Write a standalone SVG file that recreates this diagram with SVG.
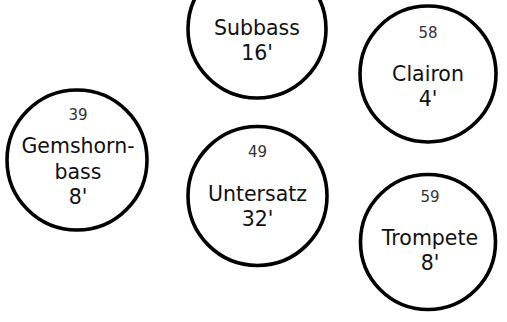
<svg xmlns="http://www.w3.org/2000/svg" width="507" height="322" viewBox="0 0 507 322">
<style>
.c{fill:#fff;stroke:#000;stroke-width:3.6}
.t{font-family:"DejaVu Sans","Open Sans",sans-serif;font-size:20.5px;fill:#111;text-anchor:middle}
.n{font-family:"DejaVu Sans","Open Sans",sans-serif;font-size:15px;fill:#333;text-anchor:middle}
</style>
<rect width="507" height="322" fill="#fff"/>
<g id="connectors"></g>
<g id="subbass">
<circle class="c" cx="257" cy="29" r="69"/>
<text class="t" x="257" y="35">Subbass</text>
<text class="t" x="257" y="60">16'</text>
</g>
<g id="clairon">
<circle class="c" cx="428" cy="74" r="68"/>
<text class="n" x="428" y="38">58</text>
<text class="t" x="428" y="81">Clairon</text>
<text class="t" x="428" y="106">4'</text>
</g>
<g id="gemshornbass">
<circle class="c" cx="77" cy="160" r="70"/>
<text class="n" x="78" y="120">39</text>
<text class="t" x="78" y="153">Gemshorn-</text>
<text class="t" x="78" y="179">bass</text>
<text class="t" x="78" y="204">8'</text>
</g>
<g id="untersatz">
<circle class="c" cx="257.5" cy="196" r="69.5"/>
<text class="n" x="257.5" y="157">49</text>
<text class="t" x="257.5" y="201">Untersatz</text>
<text class="t" x="257.5" y="226">32'</text>
</g>
<g id="trompete">
<circle class="c" cx="428" cy="242" r="67.5"/>
<text class="n" x="430" y="202">59</text>
<text class="t" x="430" y="245">Trompete</text>
<text class="t" x="430" y="270">8'</text>
</g>
</svg>
